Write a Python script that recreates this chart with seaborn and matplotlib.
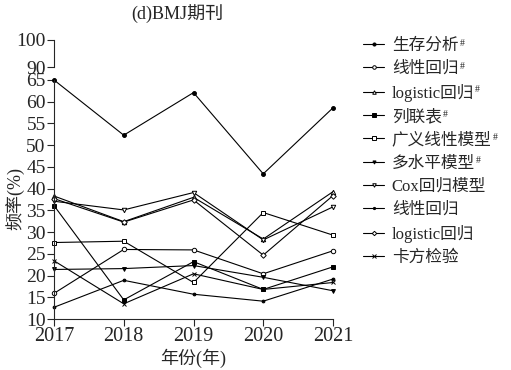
import pandas as pd
import numpy as np
import seaborn as sns
from matplotlib import pyplot as plt

years = [2017, 2018, 2019, 2020, 2021]
names = ["生存分析#", "线性回归#", "logistic回归#", "列联表#", "广义线性模型#",
         "多水平模型#", "Cox回归模型", "线性回归", "logistic回归", "卡方检验"]
survival = [65, 52.3, 62.1, 43.4, 58.6]
linreg_h = [15.9, 26.0, 25.9, 20.4, 25.7]
logit_h = [38.3, 32.4, 38.0, 28.4, 39.3]
contingency = [36.1, 14.4, 23.2, 16.8, 22.0]
glm = [27.6, 27.9, 18.4, 34.5, 29.3]
multilevel = [21.4, 21.6, 22.3, 19.6, 16.5]
cox = [37.1, 35.1, 39.1, 28.2, 35.8]
linreg = [12.7, 18.9, 15.7, 14.1, 19.2]
logit = [37.7, 32.3, 37.4, 24.7, 38.4]
chisq = [23.4, 13.5, 20.4, 16.8, 18.4]
series = [survival, linreg_h, logit_h, contingency, glm,
          multilevel, cox, linreg, logit, chisq]

rows = []
for n, vals in zip(names, series):
    for y, v in zip(years, vals):
        rows.append({"year": y, "name": n, "value": v})
df = pd.DataFrame(rows)

sns.set_style("ticks")
plt.rcParams["font.family"] = ["Liberation Serif", "Noto Sans CJK SC"]

# marker, filled?, size
styles = {
    "生存分析#": ("o", True, 2.8),
    "线性回归#": ("o", False, 3.2),
    "logistic回归#": ("^", False, 3.2),
    "列联表#": ("s", True, 3.0),
    "广义线性模型#": ("s", False, 3.2),
    "多水平模型#": ("v", True, 2.8),
    "Cox回归模型": ("v", False, 3.2),
    "线性回归": ("o", True, 2.0),
    "logistic回归": ("D", False, 2.8),
    "卡方检验": ("x", True, 3.2),
}

fig = plt.figure(figsize=(5.11, 3.70), dpi=100)
ax = fig.add_axes([54/511, 51/370, 279/511, 239/370])
ax_top = fig.add_axes([54/511, 303/370, 279/511, 27/370])

handles = []
for n in names:
    m, filled, ms = styles[n]
    sub = df[df["name"] == n]
    sns.lineplot(data=sub, x="year", y="value", ax=ax, color="k", lw=0.8,
                 marker=m, markersize=ms, markeredgecolor="k", markeredgewidth=0.7,
                 markerfacecolor="k" if filled else "white", clip_on=False,
                 legend=False)
    handles.append(ax.lines[-1])

ax.set_xlim(2017, 2021)
ax.set_ylim(10, 65)
ax.set_xticks(years)
ax.set_yticks(np.arange(10, 66, 5))
ax.tick_params(axis="x", labelsize=14.5, length=5, width=0.8, pad=1)
ax.tick_params(axis="y", labelsize=14, length=5, width=0.8, pad=1)
ax.set_xlabel("")
ax.set_ylabel("")
for s in ["top", "right"]:
    ax.spines[s].set_visible(False)
for s in ["left", "bottom"]:
    ax.spines[s].set_linewidth(0.8)

ax_top.set_ylim(90, 100)
ax_top.set_yticks([90, 100])
ax_top.set_xticks([])
ax_top.tick_params(axis="y", labelsize=14, length=5, width=0.8, pad=1)
for s in ["top", "right", "bottom"]:
    ax_top.spines[s].set_visible(False)
ax_top.spines["left"].set_linewidth(0.8)
ax_top.patch.set_alpha(0)

labels = [n.replace("#", "") for n in names]
leg = fig.legend(handles, labels, loc="upper left", bbox_to_anchor=(356/511, 1 - 31/370),
                 frameon=False, fontsize=12, handlelength=1.3, handletextpad=0.45,
                 labelspacing=0.43, borderaxespad=0, markerscale=0.8)

fig.text(177/511, 1 - 14/370, "(d)BMJ期刊", ha="center", va="center", fontsize=13)
fig.text(15/511, 1 - 198/370, "频率(%)", ha="center", va="center", rotation=90, fontsize=13)
fig.text(193/511, 1 - 358/370, "年份(年)", ha="center", va="center", fontsize=13)

# small superscript marks after the labels that carry one
fig.canvas.draw()
renderer = fig.canvas.get_renderer()
inv = fig.transFigure.inverted()
for n, t in zip(names, leg.get_texts()):
    if n.endswith("#"):
        bb = t.get_window_extent(renderer)
        x, y = inv.transform((bb.x1 + 1, bb.y1 - 1))
        fig.text(x, y, "#", ha="left", va="top", fontsize=7)

fig.savefig("out.png", dpi=100)
